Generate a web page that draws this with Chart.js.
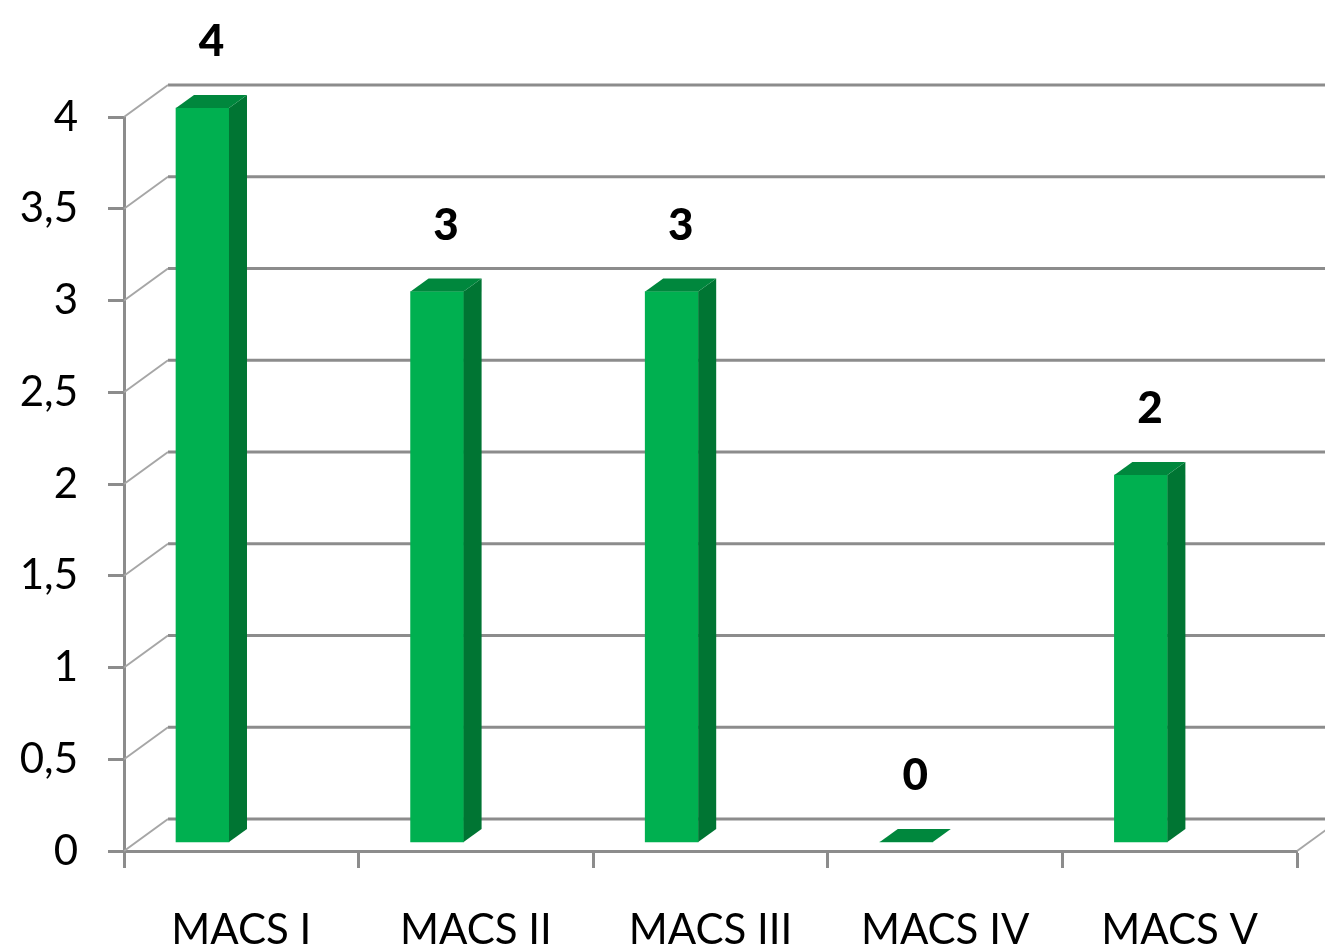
<!DOCTYPE html>
<html lang="en">
  <head>
    <meta charset="UTF-8" />
    <title>MACS</title>
    <style>
      body {
        margin: 0;
        background: #ffffff;
      }
      .wrap {
        width: 1325px;
        height: 949px;
      }
    </style>
    <script src="https://cdn.jsdelivr.net/npm/chart.js"></script>
  </head>
  <body>
    <div class="wrap"><canvas id="macsChart" width="1325" height="949"></canvas></div>
    <script>
      const categories = ["MACS I", "MACS II", "MACS III", "MACS IV", "MACS V"];
      const values = [4, 3, 3, 0, 2];
      const yTicks = [0, 0.5, 1, 1.5, 2, 2.5, 3, 3.5, 4];

      const gray = "#8c8c8c";
      const wallDx = 44; // depth of the side wall
      const wallDy = -32;
      const barDx = 18; // depth of each column
      const barDy = -13;

      // back wall grid, side wall diagonals, 3d faces, value labels
      const threeD = {
        id: "threeD",
        beforeDatasetsDraw(chart) {
          const ctx = chart.ctx;
          const y = chart.scales.y;
          const area = chart.chartArea;
          ctx.save();
          yTicks.forEach((t) => {
            const py = y.getPixelForValue(t);
            ctx.strokeStyle = gray;
            ctx.lineWidth = 3;
            ctx.beginPath();
            ctx.moveTo(area.left + wallDx, py + wallDy);
            ctx.lineTo(chart.width, py + wallDy);
            ctx.stroke();
            ctx.strokeStyle = "#a6a6a6";
            ctx.lineWidth = 2;
            ctx.beginPath();
            ctx.moveTo(area.left, py);
            ctx.lineTo(area.left + wallDx, py + wallDy);
            ctx.stroke();
          });
          ctx.beginPath();
          ctx.moveTo(area.right, area.bottom);
          ctx.lineTo(area.right + wallDx, area.bottom + wallDy);
          ctx.stroke();
          ctx.restore();
        },
        afterDatasetsDraw(chart) {
          const ctx = chart.ctx;
          const bars = chart.getDatasetMeta(0).data;
          ctx.save();
          bars.forEach((bar, i) => {
            const left = bar.x - bar.width / 2;
            const right = bar.x + bar.width / 2;
            // side face
            ctx.fillStyle = "#007533";
            ctx.beginPath();
            ctx.moveTo(right, bar.y);
            ctx.lineTo(right + barDx, bar.y + barDy);
            ctx.lineTo(right + barDx, bar.base + barDy);
            ctx.lineTo(right, bar.base);
            ctx.closePath();
            ctx.fill();
            // top face
            ctx.fillStyle = "#00873d";
            ctx.beginPath();
            ctx.moveTo(left, bar.y);
            ctx.lineTo(left + barDx, bar.y + barDy);
            ctx.lineTo(right + barDx, bar.y + barDy);
            ctx.lineTo(right, bar.y);
            ctx.closePath();
            ctx.fill();
            // value label
            ctx.fillStyle = "#000000";
            ctx.font = "900 44px Lato";
            ctx.textAlign = "center";
            ctx.textBaseline = "middle";
            ctx.fillText(String(values[i]), bar.x + barDx / 2, bar.y - 66);
          });
          ctx.restore();
        },
      };

      new Chart(document.getElementById("macsChart").getContext("2d"), {
        type: "bar",
        data: {
          labels: categories,
          datasets: [
            {
              label: "MACS",
              data: values.map((v, i) => ({ x: i, y: v })),
              xAxisID: "xb",
              yAxisID: "yb",
              backgroundColor: "#00b050",
              borderWidth: 0,
              barThickness: 53,
              clip: false,
            },
          ],
        },
        options: {
          responsive: false,
          animation: false,
          layout: { padding: { top: 117, right: 28, left: 0, bottom: 0 } },
          plugins: {
            legend: { display: false },
            tooltip: { enabled: false },
          },
          scales: {
            x: {
              type: "category",
              labels: categories,
              grid: {
                display: true,
                drawOnChartArea: false,
                drawTicks: true,
                tickLength: 17,
                tickWidth: 3,
                tickColor: gray,
                offset: true,
              },
              border: { display: true, color: gray, width: 3 },
              ticks: {
                color: "#000000",
                font: { family: "Lato", size: 42 },
                padding: 37,
                maxRotation: 0,
              },
              afterFit(scale) {
                scale.height = 98;
              },
            },
            y: {
              type: "linear",
              min: 0,
              max: 4,
              grid: {
                display: true,
                drawOnChartArea: false,
                drawTicks: true,
                tickLength: 16,
                tickWidth: 3,
                tickColor: gray,
              },
              border: { display: true, color: gray, width: 3 },
              ticks: {
                stepSize: 0.5,
                color: "#000000",
                font: { family: "Lato", size: 42 },
                padding: 30,
                callback: (v) => String(v).replace(".", ","),
              },
              afterFit(scale) {
                scale.width = 124;
              },
            },
            xb: {
              type: "linear",
              display: false,
              offset: false,
              min: -0.3346,
              max: 4.6654,
            },
            yb: {
              type: "linear",
              display: false,
              min: -0.049,
              max: 3.951,
            },
          },
        },
        plugins: [threeD],
      });
    </script>
  </body>
</html>
